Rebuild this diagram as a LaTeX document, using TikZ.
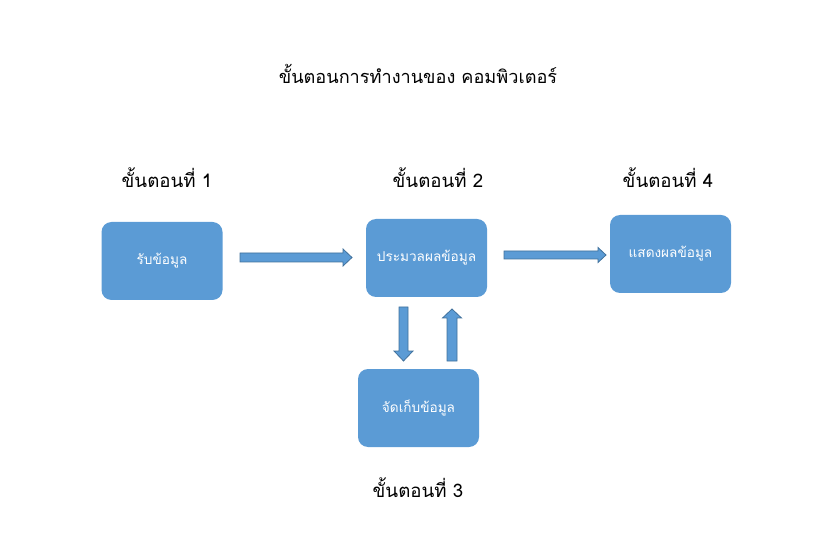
\documentclass[tikz,border=0pt]{standalone}
\usepackage{fontspec}
\newfontfamily\thaifont[Script=Thai]{Loma}
\definecolor{boxblue}{HTML}{5B9BD5}
\definecolor{edgeblue}{HTML}{41719C}
\tikzset{
  stepbox/.style={fill=boxblue, draw=none, rounded corners=7.5pt, minimum width=90.75pt, minimum height=58.5pt, text=white, font=\thaifont\fontsize{10.2}{12}\selectfont, inner sep=0pt},
  steplabel/.style={font=\thaifont\fontsize{14}{16}\selectfont, text=black, inner sep=0pt},
  blockarrow/.style={fill=boxblue, draw=edgeblue, line width=0.6pt, line join=miter}
}
\begin{document}
\begin{tikzpicture}[x=0.75pt,y=-0.75pt]
\useasboundingbox (0,0) rectangle (837,555);
\node[font=\thaifont\fontsize{13.6}{16}\selectfont, inner sep=0pt] (title) at (418,74) {ขั้นตอนการทำงานของ คอมพิวเตอร์};
\node[steplabel] (s1) at (167,178) {ขั้นตอนที่ 1};
\node[steplabel] (s2) at (438,178) {ขั้นตอนที่ 2};
\node[steplabel] (s4) at (668,178) {ขั้นตอนที่ 4};
\node[steplabel] (s3) at (418,488) {ขั้นตอนที่ 3};
\node[stepbox] (b1) at (162,261) {รับข้อมูล};
\node[stepbox] (b2) at (426.5,258) {ประมวลผลข้อมูล};
\node[stepbox] (b4) at (670.5,254) {แสดงผลข้อมูล};
\node[stepbox] (b3) at (418.5,408) {จัดเก็บข้อมูล};
% right arrow b1 -> b2
\draw[blockarrow] (240,253) -- (343,253) -- (343,249) -- (352,257.5) -- (343,266) -- (343,262) -- (240,262) -- cycle;
% right arrow b2 -> b4
\draw[blockarrow] (504,251) -- (598,251) -- (598,247.5) -- (606,255) -- (598,262.5) -- (598,259) -- (504,259) -- cycle;
% down arrow b2 -> b3
\draw[blockarrow] (399,307) -- (408,307) -- (408,351) -- (413,351) -- (403.5,361) -- (394,351) -- (399,351) -- cycle;
% up arrow b3 -> b2
\draw[blockarrow] (447,361) -- (457,361) -- (457,318) -- (461.5,318) -- (452,309) -- (442.5,318) -- (447,318) -- cycle;
\end{tikzpicture}
\end{document}
